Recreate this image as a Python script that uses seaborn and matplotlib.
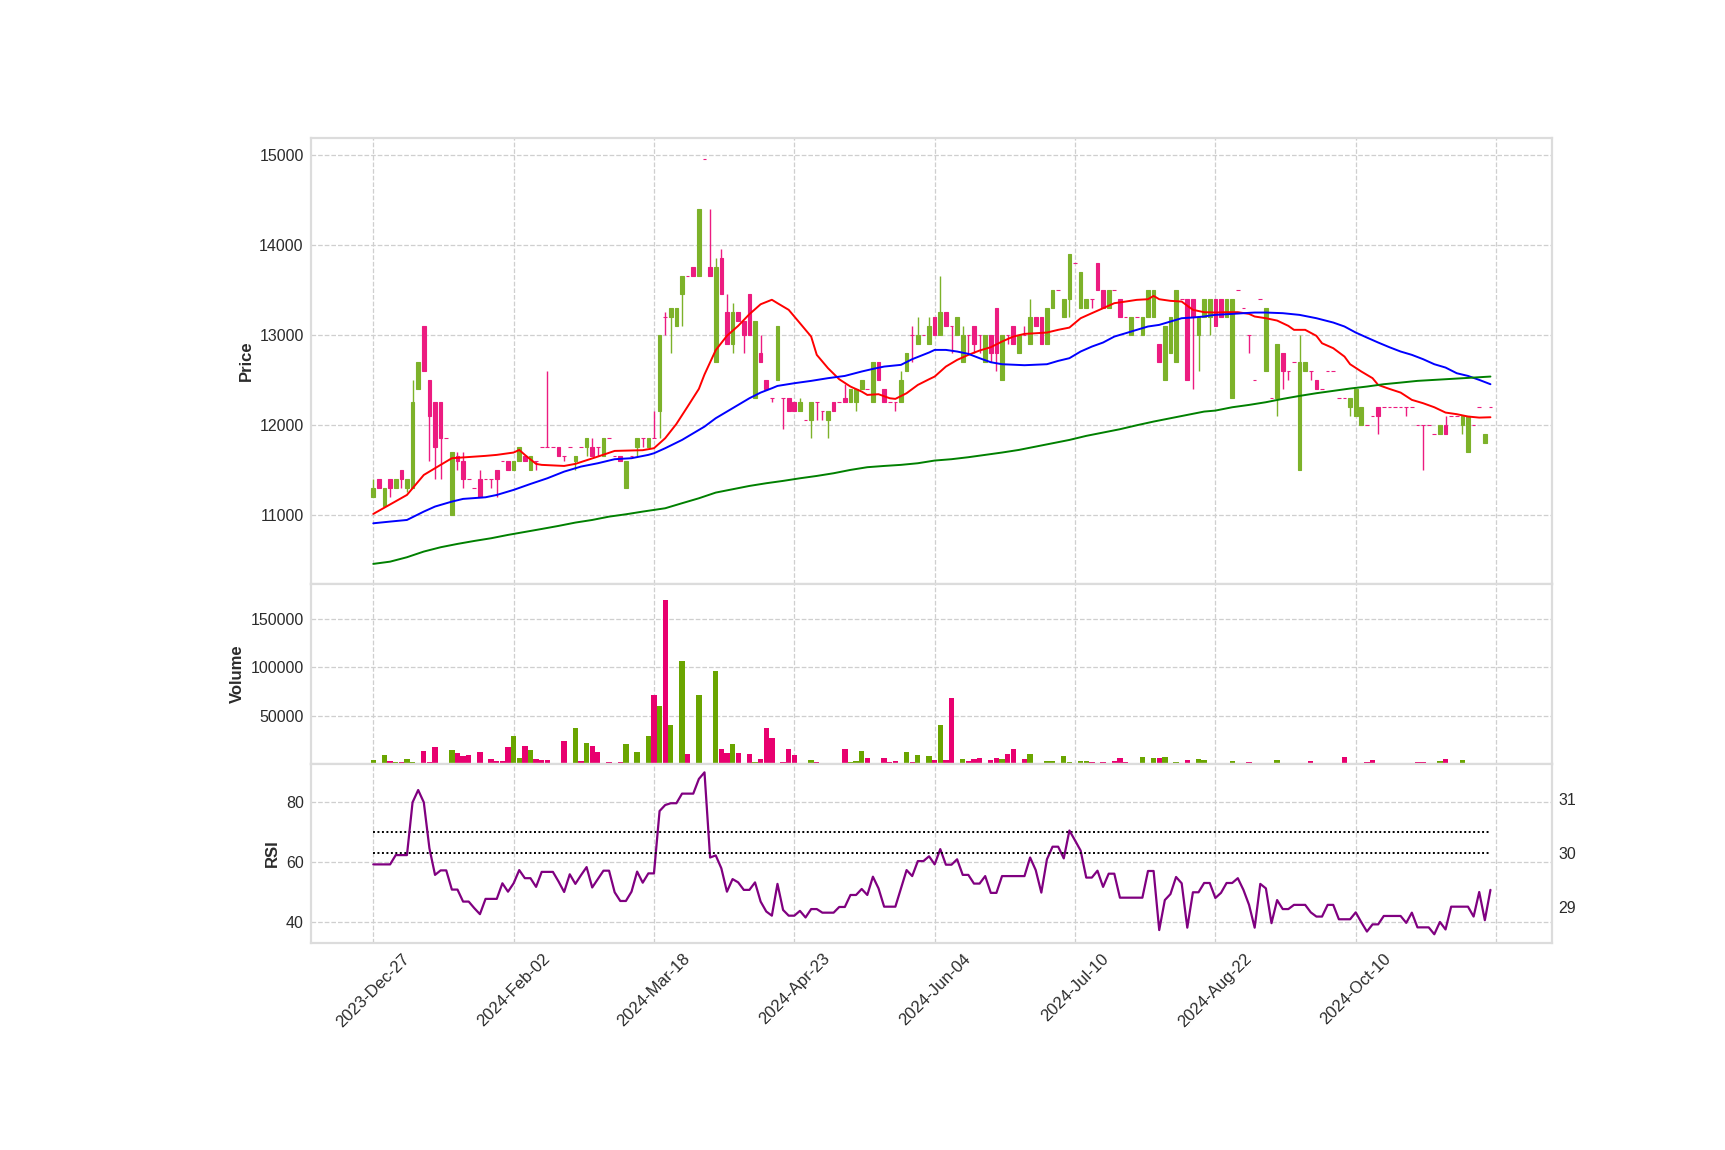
import numpy as np
import pandas as pd
import matplotlib
matplotlib.use("Agg")
import matplotlib.pyplot as plt
import seaborn as sns

# ---------------- data ----------------
tick_labels = ["2023-Dec-27", "2024-Feb-02", "2024-Mar-18", "2024-Apr-23",
               "2024-Jun-04", "2024-Jul-10", "2024-Aug-22", "2024-Oct-10", ""]

opens = [
    11200, 11400, 11100, 11400, 11300, 11500, 11300, 11300, 12400, 13100,
    12500, 12250, 12250, 11850, 11000, 11650, 11600, 11400, 11300, 11400,
    11400, 11400, 11500, 11600, 11600, 11500, 11600, 11650, 11500, 11600,
    11750, 11750, 11750, 11750, 11650, 11750, 11600, 11750, 11750, 11750,
    11750, 11650, 11850, 11650, 11650, 11300, 11650, 11750, 11850, 11750,
    11850, 12150, 13200, 13200, 13100, 13450, 13650, 13750, 13650, 14950,
    13750, 12700, 13850, 13250, 12900, 13250, 13150, 13450, 12300, 12800,
    12500, 12300, 12500, 12300, 12300, 12250, 12150, 12050, 12050, 12250,
    12150, 12050, 12250, 12250, 12300, 12250, 12250, 12400, 12400, 12250,
    12700, 12400, 12250, 12250, 12250, 12600, 13000, 12900, 13000, 12900,
    13200, 13000, 13250, 13100, 13000, 12700, 13000, 13100, 13000, 12700,
    13000, 13300, 12500, 13000, 13100, 12800, 13000, 12900, 13200, 13200,
    12900, 13300, 13500, 13200, 13400, 13800, 13300, 13300, 13400, 13800,
    13500, 13300, 13500, 13400, 13200, 13000, 13200, 13000, 13200, 13200,
    12900, 12500, 12800, 12700, 13400, 13400, 13400, 13000, 13200, 13200,
    13400, 13400, 13200, 12300, 13500, 13300, 13000, 12500, 13400, 12600,
    12300, 12300, 12800, 12600, 12700, 11500, 12600, 12600, 12500, 12400,
    12600, 12600, 12300, 12300, 12200, 12100, 12000, 12000, 12100, 12200,
    12200, 12200, 12200, 12200, 12200, 12200, 12000, 12000, 12000, 11900,
    11900, 12000, 12100, 12100, 12000, 11700, 12000, 12200, 11800, 12200,
]
highs = [
    11400, 11400, 11300, 11400, 11400, 11500, 11400, 12500, 12700, 13100,
    12500, 12250, 12250, 11850, 11700, 11700, 11700, 11400, 11300, 11500,
    11400, 11400, 11500, 11600, 11600, 11600, 11750, 11650, 11650, 11600,
    11750, 12600, 11750, 11750, 11650, 11750, 11650, 11750, 11850, 11850,
    11750, 11850, 11850, 11650, 11650, 11600, 11650, 11850, 11850, 11850,
    12150, 13000, 13250, 13300, 13300, 13650, 13650, 13750, 14400, 14950,
    14400, 13850, 13950, 13450, 13350, 13250, 13150, 13450, 13150, 13000,
    12500, 12300, 13100, 12300, 12300, 12250, 12300, 12050, 12250, 12250,
    12150, 12150, 12250, 12250, 12450, 12400, 12400, 12500, 12400, 12700,
    12700, 12400, 12250, 12250, 12600, 12800, 13100, 13200, 13000, 13200,
    13200, 13650, 13250, 13100, 13200, 13100, 13000, 13100, 13000, 13000,
    13000, 13300, 13000, 13000, 13100, 13000, 13100, 13400, 13200, 13200,
    13300, 13500, 13500, 13400, 13900, 13800, 13700, 13400, 13400, 13800,
    13500, 13500, 13500, 13400, 13200, 13200, 13200, 13200, 13500, 13500,
    12900, 13100, 13200, 13500, 13400, 13400, 13400, 13200, 13400, 13400,
    13400, 13400, 13400, 13400, 13500, 13300, 13000, 12500, 13400, 13300,
    12300, 12900, 12800, 12600, 12700, 13000, 12700, 12600, 12500, 12400,
    12600, 12600, 12300, 12300, 12300, 12400, 12200, 12000, 12100, 12200,
    12200, 12200, 12200, 12200, 12200, 12200, 12000, 12000, 12000, 11900,
    12000, 12100, 12100, 12100, 12100, 12100, 12000, 12200, 11900, 12200,
]
lows = [
    11200, 11300, 11100, 11200, 11300, 11300, 11250, 11300, 12400, 12600,
    11600, 11400, 11400, 11850, 11000, 11500, 11300, 11400, 11300, 11200,
    11400, 11300, 11200, 11600, 11500, 11500, 11600, 11600, 11500, 11500,
    11750, 11750, 11750, 11650, 11600, 11750, 11500, 11750, 11650, 11650,
    11650, 11650, 11850, 11650, 11600, 11300, 11650, 11650, 11750, 11750,
    11850, 11850, 13000, 12800, 13100, 13100, 13650, 13650, 13650, 14950,
    13650, 12700, 13450, 12900, 12800, 13150, 12800, 13000, 12300, 12700,
    12400, 12250, 12500, 11950, 12150, 12150, 12150, 12050, 11850, 12050,
    12050, 11850, 12150, 12250, 12250, 12250, 12150, 12400, 12400, 12250,
    12500, 12250, 12250, 12150, 12250, 12600, 12700, 12900, 13000, 12900,
    13000, 13000, 13100, 12800, 13000, 12700, 12800, 12800, 12800, 12700,
    12700, 12600, 12500, 12900, 12900, 12800, 13000, 12900, 13100, 12900,
    12900, 13300, 13500, 13200, 13200, 13800, 13300, 13300, 13300, 13500,
    13300, 13300, 13500, 13200, 13200, 13000, 13200, 13000, 13200, 13200,
    12700, 12500, 12800, 12700, 13400, 12500, 12400, 12600, 13200, 13000,
    13100, 13200, 13200, 12300, 13500, 13300, 12800, 12500, 13400, 12600,
    12300, 12100, 12400, 12500, 12700, 11500, 12600, 12500, 12400, 12400,
    12600, 12600, 12300, 12300, 12100, 12100, 12000, 12000, 12100, 11900,
    12200, 12200, 12200, 12200, 12100, 12200, 12000, 11500, 12000, 11900,
    11900, 11900, 12100, 12100, 11900, 11700, 12000, 12200, 11800, 12200,
]
closes = [
    11300, 11300, 11300, 11300, 11400, 11400, 11400, 12250, 12700, 12600,
    12100, 11750, 11850, 11850, 11700, 11600, 11400, 11400, 11300, 11200,
    11400, 11400, 11400, 11600, 11500, 11600, 11750, 11600, 11650, 11600,
    11750, 11750, 11750, 11650, 11650, 11750, 11650, 11750, 11850, 11650,
    11750, 11850, 11850, 11650, 11600, 11600, 11650, 11850, 11850, 11850,
    11850, 13000, 13200, 13300, 13300, 13650, 13650, 13650, 14400, 14950,
    13650, 13750, 13450, 12900, 13250, 13150, 13000, 13000, 13150, 12700,
    12400, 12300, 13100, 12300, 12150, 12150, 12250, 12050, 12250, 12250,
    12150, 12150, 12150, 12250, 12250, 12400, 12400, 12500, 12400, 12700,
    12500, 12250, 12250, 12250, 12500, 12800, 13000, 13000, 13000, 13100,
    13000, 13250, 13100, 13100, 13200, 13000, 13000, 12900, 13000, 13000,
    12800, 12800, 13000, 13000, 12900, 13000, 13000, 13200, 13100, 12900,
    13300, 13500, 13500, 13400, 13900, 13800, 13700, 13400, 13400, 13500,
    13300, 13500, 13500, 13200, 13200, 13200, 13200, 13200, 13500, 13500,
    12700, 13100, 13200, 13500, 13400, 12500, 13200, 13200, 13400, 13400,
    13100, 13200, 13400, 13400, 13500, 13300, 13000, 12500, 13400, 13300,
    12300, 12900, 12600, 12600, 12700, 12700, 12700, 12600, 12400, 12400,
    12600, 12600, 12300, 12300, 12300, 12400, 12200, 12000, 12100, 12100,
    12200, 12200, 12200, 12200, 12200, 12200, 12000, 12000, 12000, 11900,
    12000, 11900, 12100, 12100, 12100, 12100, 12000, 12200, 11900, 12200,
]
volumes = [
    4200, 0, 9400, 3100, 2100, 2100, 5200, 2100, 0, 13600,
    2100, 17700, 1000, 0, 14600, 11500, 8400, 9400, 0, 12500,
    0, 5200, 3100, 3100, 17700, 29200, 6300, 18800, 14600, 5200,
    4200, 4200, 0, 0, 24000, 0, 37600, 3100, 21900, 18800,
    12500, 1000, 2100, 1000, 2100, 20900, 0, 12500, 1000, 29200,
    71000, 59500, 169000, 40700, 1000, 106500, 10400, 0, 71000, 0,
    0, 96000, 15700, 11500, 20900, 11500, 0, 10400, 2100, 5200,
    37600, 27100, 0, 2100, 15700, 9400, 1000, 0, 4200, 2100,
    1000, 1000, 1000, 0, 15700, 2100, 3100, 13600, 6300, 1000,
    1000, 6300, 2100, 3100, 0, 12500, 2100, 9400, 1000, 8400,
    4200, 40700, 4200, 67900, 1000, 5200, 3100, 5200, 6300, 1000,
    4200, 6300, 5200, 10400, 15700, 1000, 5200, 10400, 1000, 1000,
    3100, 3100, 0, 8400, 2100, 0, 3100, 3100, 2100, 0,
    2100, 0, 3100, 6300, 2100, 1000, 0, 7300, 0, 6300,
    6300, 7300, 0, 2100, 0, 4200, 1000, 5200, 4200, 1000,
    0, 0, 0, 3100, 0, 0, 2100, 0, 0, 0,
    1000, 4200, 0, 0, 0, 0, 0, 3100, 1000, 0,
    0, 0, 0, 7300, 0, 1000, 0, 2100, 4200, 1000,
    0, 0, 0, 0, 0, 0, 2100, 2100, 0, 0,
    3100, 5200, 0, 0, 4200, 0, 0, 0, 1000, 0,
]
rsi = [
    59.3, 59.3, 59.3, 59.3, 62.4, 62.4, 62.4, 80.0, 84.1, 80.0,
    64.7, 55.8, 57.3, 57.3, 50.9, 50.9, 46.9, 46.9, 44.7, 42.7,
    47.8, 47.8, 47.8, 53.0, 50.2, 53.0, 57.4, 54.7, 54.7, 51.8,
    56.8, 56.8, 56.8, 53.6, 50.1, 56.0, 52.8, 55.7, 58.4, 51.6,
    54.4, 57.2, 57.2, 50.0, 47.1, 47.1, 50.2, 56.9, 53.2, 56.3,
    56.3, 77.1, 79.1, 79.7, 79.7, 82.9, 82.9, 82.9, 87.8, 90.0,
    61.6, 62.3, 58.0, 50.2, 54.4, 53.3, 50.8, 50.8, 53.3, 46.9,
    43.6, 42.2, 52.8, 44.1, 42.2, 42.2, 43.8, 41.6, 44.4, 44.4,
    43.2, 43.2, 43.2, 45.1, 45.1, 49.1, 49.1, 51.1, 49.1, 55.2,
    51.3, 45.2, 45.2, 45.2, 51.3, 57.4, 55.4, 60.4, 60.4, 62.0,
    59.3, 64.4, 59.2, 59.2, 61.0, 55.8, 55.8, 52.9, 52.9, 55.4,
    49.8, 49.8, 55.4, 55.4, 55.4, 55.4, 55.4, 61.6, 57.4, 49.9,
    61.0, 65.2, 65.2, 61.3, 70.6, 67.3, 63.9, 54.9, 54.9, 57.2,
    51.8, 56.2, 56.2, 48.2, 48.2, 48.2, 48.2, 48.2, 57.1, 57.1,
    37.4, 47.4, 49.4, 55.1, 53.0, 38.2, 50.0, 50.0, 53.1, 53.1,
    48.1, 49.8, 53.1, 53.1, 54.7, 50.8, 45.8, 38.2, 52.8, 51.3,
    39.7, 47.4, 44.4, 44.4, 45.8, 45.8, 45.8, 43.3, 41.9, 41.9,
    45.8, 45.8, 41.0, 41.0, 41.0, 43.3, 40.0, 36.9, 39.3, 39.3,
    42.1, 42.1, 42.1, 42.1, 39.8, 43.2, 38.3, 38.3, 38.3, 36.0,
    40.1, 37.6, 45.2, 45.2, 45.2, 45.2, 41.9, 50.1, 40.7, 50.8,
]

# moving averages (bar index, value)
ma_fast_idx = [0, 6, 9, 12, 14, 20, 22, 25, 26, 27, 29, 30, 34, 36, 40, 43, 48,
               50, 52, 54, 56, 58, 59, 61, 63, 65, 67, 69, 71, 72, 74, 76, 78, 79,
               81, 83, 85, 87, 88, 90, 92, 93, 95, 97, 99, 100, 102, 104, 106, 108,
               110, 112, 114, 116, 118, 120, 122, 124, 126, 128, 130, 132, 134, 136,
               138, 139, 140, 142, 144, 146, 148, 150, 152, 154, 156, 157, 159, 161,
               163, 164, 166, 168, 169, 171, 173, 174, 176, 178, 179, 181, 183, 185,
               187, 189, 191, 193, 195, 197, 199]
ma_fast_val = [11011, 11222, 11444, 11556, 11630, 11656, 11667, 11693, 11722, 11667,
               11567, 11556, 11544, 11567, 11648, 11711, 11719,
               11741, 11852, 12011, 12204, 12400, 12560, 12830, 12990, 13100, 13230,
               13340, 13390, 13352, 13278, 13130, 12981, 12778, 12630, 12507, 12426,
               12370, 12333, 12341, 12296, 12289, 12352, 12444, 12507, 12537, 12648,
               12722, 12778, 12826, 12863, 12926, 12981, 13011, 13018, 13026, 13056,
               13081, 13185, 13241, 13296, 13352, 13370, 13389, 13396, 13433, 13396,
               13378, 13370, 13278, 13252, 13248, 13252, 13252, 13233, 13204, 13185,
               13159, 13100, 13056, 13056, 12989, 12907, 12852, 12759, 12674, 12593,
               12519, 12444, 12400, 12359, 12278, 12241, 12196, 12137, 12119, 12093,
               12081, 12085]

ma_mid_idx = [0, 3, 6, 9, 11, 14, 16, 20, 22, 25, 28, 31, 34, 37, 40, 43, 46, 49,
              50, 52, 55, 57, 59, 61, 63, 65, 67, 69, 71, 72, 75, 78, 81, 84, 87, 89,
              91, 94, 96, 99, 100, 102, 104, 106, 108, 110, 112, 116, 120, 122, 124,
              126, 128, 130, 132, 134, 136, 138, 140, 142, 144, 146, 148, 149, 150,
              153, 155, 157, 159, 162, 165, 168, 171, 173, 175, 177, 179, 181, 183,
              185, 187, 189, 191, 193, 195, 197, 199]
ma_mid_val = [10907, 10926, 10944, 11037, 11093, 11148, 11178, 11196, 11222, 11278,
              11344, 11407, 11481, 11537, 11574, 11619, 11630, 11667,
              11685, 11741, 11833, 11907, 11981, 12074, 12148, 12222, 12296, 12359,
              12407, 12433, 12463, 12489, 12519, 12544, 12593, 12622, 12648, 12667,
              12730, 12804, 12833, 12833, 12815, 12789, 12741, 12696, 12674, 12663,
              12674, 12711, 12741, 12815, 12870, 12915, 12981, 13018, 13056, 13093,
              13111, 13148, 13185, 13193, 13204, 13215, 13222, 13233, 13241, 13248,
              13248, 13241, 13222, 13185, 13137, 13093, 13026, 12970, 12915, 12863,
              12815, 12778, 12730, 12674, 12637, 12574, 12544, 12500, 12452]

ma_slow_idx = [0, 3, 6, 9, 12, 15, 18, 21, 24, 27, 30, 33, 36, 39, 42, 45, 48,
               52, 55, 58, 61, 64, 67, 70, 73, 76, 79, 82, 85, 88, 91, 94, 97, 100,
               103, 106, 109, 112, 115, 118, 121, 124, 127, 130, 133, 136, 139, 142,
               145, 148, 150, 153, 156, 159, 162, 165, 168, 171, 174, 177, 180, 183,
               186, 189, 192, 195, 199]
ma_slow_val = [10456, 10481, 10530, 10593, 10641, 10678, 10711, 10741, 10778, 10811,
               10844, 10878, 10915, 10944, 10981, 11007, 11037,
               11074, 11130, 11185, 11248, 11285, 11322, 11352, 11378, 11407, 11433,
               11463, 11500, 11530, 11544, 11556, 11574, 11604, 11619, 11641, 11667,
               11693, 11722, 11759, 11796, 11833, 11878, 11915, 11952, 11996, 12037,
               12074, 12111, 12148, 12159, 12196, 12222, 12252, 12289, 12322, 12352,
               12378, 12404, 12426, 12452, 12470, 12489, 12500, 12511, 12522, 12537]

rsi_upper = 70      # on the RSI axis
rsi_lower = 30      # on the secondary RSI axis

# ---------------- style ----------------
sns.set_theme(style="whitegrid")
plt.rcParams["font.family"] = ["Liberation Sans", "DejaVu Sans"]
plt.rcParams["axes.edgecolor"] = "#dcdcdc"
plt.rcParams["axes.linewidth"] = 1.6
plt.rcParams["grid.color"] = "#cfcfcf"
plt.rcParams["grid.linestyle"] = "--"
plt.rcParams["grid.linewidth"] = 0.9

UP_C, DOWN_C = "#7db22a", "#ec1c80"
UP_V, DOWN_V = "#6aa500", "#e8006f"
TXT = "#2b2b2b"

n = len(closes)
df = pd.DataFrame({"idx": np.arange(n), "open": opens, "high": highs, "low": lows,
                   "close": closes, "volume": volumes, "rsi": rsi})
up = df["close"] > df["open"]
candle_colors = np.where(up, UP_C, DOWN_C)
vol_colors = np.where(up, UP_V, DOWN_V)

fig = plt.figure(figsize=(17.25, 11.5), dpi=100)
L, W = 0.1801, 0.7194
ax_p = fig.add_axes([L, 0.4922, W, 0.3882])
ax_v = fig.add_axes([L, 0.3357, W, 0.1565], sharex=ax_p)
ax_r = fig.add_axes([L, 0.1803, W, 0.1554], sharex=ax_p)

# candles
ax_p.vlines(df["idx"], df["low"], df["high"], colors=candle_colors, lw=1.0, zorder=2)
body_low = np.minimum(df["open"], df["close"])
body_h = np.abs(df["close"] - df["open"])
ax_p.bar(df["idx"], body_h, bottom=body_low, width=0.65, color=candle_colors,
         edgecolor=candle_colors, linewidth=0.8, zorder=3)

# moving averages
sns.lineplot(x=ma_fast_idx, y=ma_fast_val, ax=ax_p, color="red", lw=1.4, zorder=4)
sns.lineplot(x=ma_mid_idx, y=ma_mid_val, ax=ax_p, color="blue", lw=1.4, zorder=4)
sns.lineplot(x=ma_slow_idx, y=ma_slow_val, ax=ax_p, color="green", lw=1.4, zorder=4)

# volume
ax_v.bar(df["idx"], df["volume"], width=0.95, color=vol_colors, linewidth=0, zorder=2)

# RSI
sns.lineplot(data=df, x="idx", y="rsi", ax=ax_r, color="purple", lw=1.6, zorder=3)
ax_r.plot(df["idx"], np.full(n, rsi_upper), color="black", lw=1.4,
          linestyle=(0, (1, 1.3)), zorder=2)
ax_r2 = ax_r.twinx()
ax_r2.plot(df["idx"], np.full(n, rsi_lower), color="black", lw=1.4,
           linestyle=(0, (1, 1.3)), zorder=2)
ax_r2.set_ylim(28.35, 31.65)
ax_r2.set_yticks([29, 30, 31])
ax_r2.grid(False)
ax_r2.tick_params(axis="y", length=0, pad=5, labelsize=11.5, labelcolor=TXT)
for s in ax_r2.spines.values():
    s.set_visible(False)

# axes formatting
ax_p.set_xlim(-11.15, 209.9)
ax_p.set_ylim(10233, 15192)
ax_p.set_yticks([11000, 12000, 13000, 14000, 15000])
ax_v.set_ylim(0, 186000)
ax_v.set_yticks([50000, 100000, 150000])
ax_r.set_ylim(33.2, 92.8)
ax_r.set_yticks([40, 60, 80])

ax_r.set_xticks(np.arange(0, 201, 25))
ax_r.set_xticklabels(tick_labels)

for ax, lab in [(ax_p, "Price"), (ax_v, "Volume"), (ax_r, "RSI")]:
    ax.set_facecolor("white")
    ax.set_ylabel(lab, fontsize=12, fontweight="bold", color=TXT, labelpad=4)
    ax.set_xlabel("")
    ax.grid(True, axis="both")
    ax.tick_params(axis="both", length=0, labelsize=11.5, labelcolor=TXT, pad=5)
    if ax is not ax_r:
        ax.ticklabel_format(axis="y", style="plain", useOffset=False)
    for s in ax.spines.values():
        s.set_color("#dcdcdc")
        s.set_linewidth(1.6)

plt.setp(ax_p.get_xticklabels(), visible=False)
plt.setp(ax_v.get_xticklabels(), visible=False)
ax_r.tick_params(axis="x", rotation=45, labelsize=12, pad=6)

fig.savefig("out.png", dpi=100, facecolor="white")
